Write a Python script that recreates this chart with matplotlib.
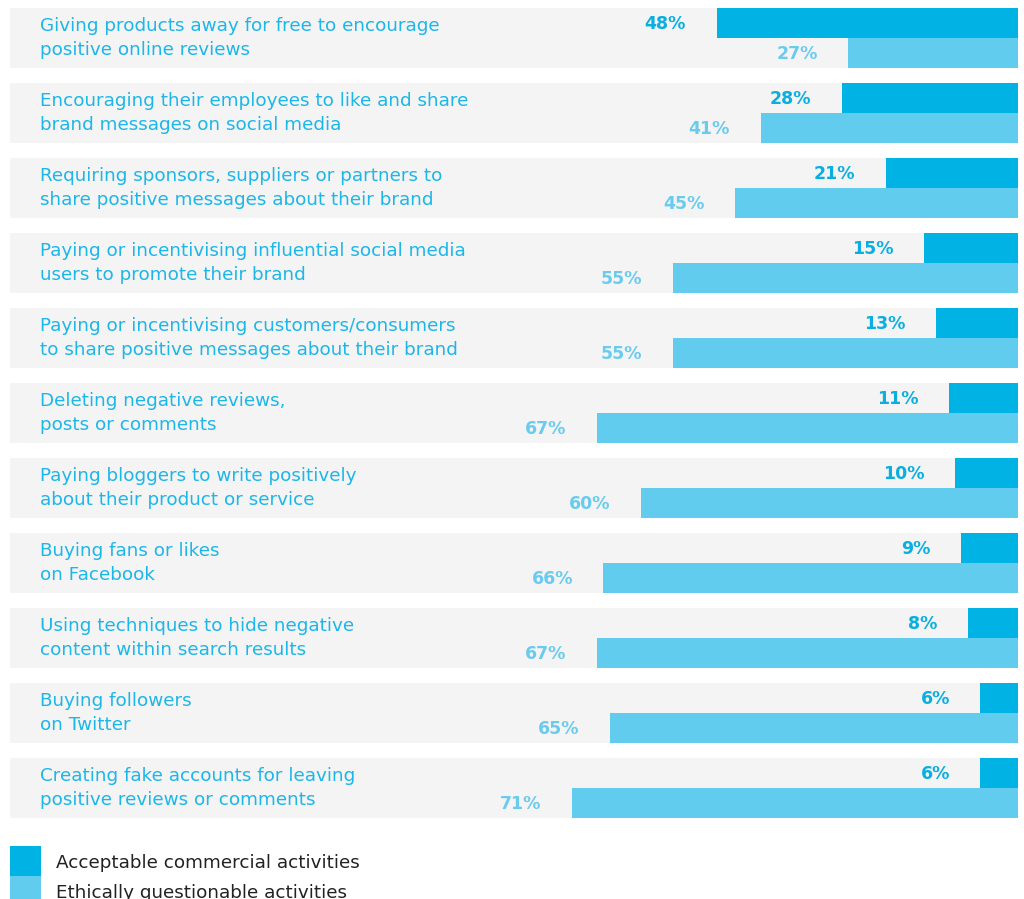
import matplotlib.pyplot as plt
import matplotlib.patches as mpatches
import numpy as np

categories = [
    "Giving products away for free to encourage\npositive online reviews",
    "Encouraging their employees to like and share\nbrand messages on social media",
    "Requiring sponsors, suppliers or partners to\nshare positive messages about their brand",
    "Paying or incentivising influential social media\nusers to promote their brand",
    "Paying or incentivising customers/consumers\nto share positive messages about their brand",
    "Deleting negative reviews,\nposts or comments",
    "Paying bloggers to write positively\nabout their product or service",
    "Buying fans or likes\non Facebook",
    "Using techniques to hide negative\ncontent within search results",
    "Buying followers\non Twitter",
    "Creating fake accounts for leaving\npositive reviews or comments",
]
acceptable = [48, 28, 21, 15, 13, 11, 10, 9, 8, 6, 6]
questionable = [27, 41, 45, 55, 55, 67, 60, 66, 67, 65, 71]
series_names = ["Acceptable commercial activities", "Ethically questionable activities"]

dark = "#00B3E4"
light = "#62CCEE"
text_blue = "#1CB6E8"

W, H = 1024, 899
fig = plt.figure(figsize=(W / 100, H / 100), dpi=100)
ax = fig.add_axes([10 / W, 1 - 818 / H, 1008 / W, 810 / H])

y = np.arange(len(categories))
for yi in y:
    ax.axhspan(yi - 0.4, yi + 0.4, color="#F4F4F4", lw=0, zorder=0)

ax.barh(y - 0.2, acceptable, height=0.4, color=dark, zorder=2)
ax.barh(y + 0.2, questionable, height=0.4, color=light, zorder=2)

for yi, a, q in zip(y, acceptable, questionable):
    ax.annotate(f"{a}%", xy=(a, yi - 0.2), xytext=(-22, -1), textcoords="offset points",
                ha="right", va="center", fontsize=12.5, fontweight="bold", color="#0AAEE0")
    ax.annotate(f"{q}%", xy=(q, yi + 0.2), xytext=(-22, -1), textcoords="offset points",
                ha="right", va="center", fontsize=12.5, fontweight="bold", color="#6BCBEE")

for yi, lab in zip(y, categories):
    ax.text(30 / 1008, yi, lab, transform=ax.get_yaxis_transform(), ha="left", va="center",
            fontsize=13.25, color=text_blue, linespacing=1.38)

ax.set_xlim(160.5, 0)
ax.set_ylim(len(categories) - 0.6, -0.4)
ax.axis("off")

# legend: two stacked squares drawn in pixel space, second one runs off the bottom
for k, (name, col) in enumerate(zip(series_names, [dark, light])):
    top = 846 + 30 * k
    fig.patches.append(mpatches.Rectangle((10 / W, 1 - (top + 30) / H), 31 / W, 30 / H,
                                          transform=fig.transFigure, color=col, lw=0))
    fig.text(56 / W, 1 - (top + 17) / H, name, ha="left", va="center",
             fontsize=13.2, color="#222222")

fig.savefig("out.png", dpi=100)
